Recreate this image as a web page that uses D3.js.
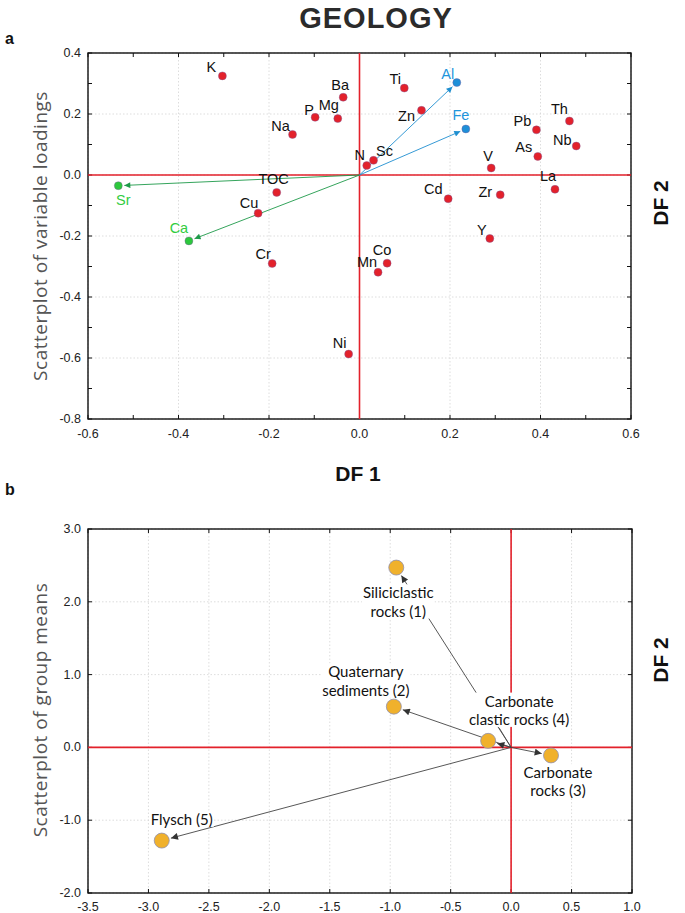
<!DOCTYPE html>
<html>
<head>
<meta charset="utf-8">
<script src="https://cdn.jsdelivr.net/npm/d3@7"></script>
<style>
  html, body { margin: 0; padding: 0; background: #fff; }
  svg { display: block; }
</style>
</head>
<body>
<svg id="chart" width="685" height="913"></svg>
<script>
// ---------------- DATA ----------------
// Panel a: discriminant function loadings
const loadingVars = ["K","Ba","P","Mg","Na","TOC","Cu","Sr","Ca","Cr","Ni","Ti","Al","Zn","Fe","Pb","Th","Nb","As","V","N","Sc","Cd","Zr","La","Y","Co","Mn"];
const loadingDF1 = [-0.303,-0.036,-0.098,-0.048,-0.148,-0.183,-0.224,-0.533,-0.377,-0.193,-0.024,0.099,0.215,0.137,0.235,0.391,0.464,0.479,0.394,0.291,0.016,0.031,0.196,0.311,0.432,0.288,0.061,0.041];
const loadingDF2 = [0.325,0.255,0.189,0.185,0.133,-0.057,-0.125,-0.035,-0.216,-0.290,-0.587,0.285,0.303,0.212,0.151,0.148,0.177,0.095,0.061,0.023,0.031,0.048,-0.078,-0.065,-0.047,-0.208,-0.289,-0.319];
const greenVars = ["Sr","Ca"];
const blueVars = ["Al","Fe"];
const loadXTicks = [-0.6,-0.4,-0.2,0.0,0.2,0.4,0.6];
const loadYTicks = [0.4,0.2,0.0,-0.2,-0.4,-0.6,-0.8];

// Panel b: group means
const groupNames = ["Siliciclastic rocks (1)","Quaternary sediments (2)","Carbonate rocks (3)","Carbonate clastic rocks (4)","Flysch (5)"];
const groupDF1 = [-0.95,-0.97,0.33,-0.19,-2.89];
const groupDF2 = [2.47,0.56,-0.11,0.09,-1.28];
const meanXTicks = [-3.5,-3.0,-2.5,-2.0,-1.5,-1.0,-0.5,0.0,0.5,1.0];
const meanYTicks = [3.0,2.0,1.0,0.0,-1.0,-2.0];

// ---------------- LAYOUT (label placement, px offsets from point) ----------------
const loadLabelOffset = {
  K:[-11,-9], Ba:[-3,-12], P:[-6,-8], Mg:[-9,-14], Na:[-12,-9], TOC:[-3,-14], Cu:[-9,-10],
  Sr:[5,14], Ca:[-10,-13], Cr:[-9,-10], Ni:[-9,-11], Ti:[-9,-9], Al:[-9,-9], Zn:[-15,5],
  Fe:[-5,-14], Pb:[-14,-9], Th:[-10,-12], Nb:[-14,-6], As:[-14,-10], V:[-3,-12], N:[-7,-11],
  Sc:[11,-10], Cd:[-15,-10], Zr:[-15,-3], La:[-7,-14], Y:[-8,-9], Co:[-5,-13], Mn:[-11,-11]
};
const groupLabelLayout = [
  {lines:["Siliciclastic","rocks (1)"], dx:2, dy:25.5},
  {lines:["Quaternary","sediments (2)"], dx:-28, dy:-34.5},
  {lines:["Carbonate","rocks (3)"], dx:7, dy:17.5},
  {lines:["Carbonate","clastic rocks (4)"], dx:31, dy:-39.5},
  {lines:["Flysch (5)"], dx:20, dy:-21}
];

const RED = "#e3212b";
const svg = d3.select("#chart");
const fmt = d => d.toFixed(1);

// arrowhead markers
function addMarker(id, color, w, h) {
  svg.append("defs").append("marker")
    .attr("id", id).attr("viewBox", "0 0 10 10")
    .attr("refX", 10).attr("refY", 5)
    .attr("markerWidth", w).attr("markerHeight", h)
    .attr("markerUnits", "userSpaceOnUse")
    .attr("orient", "auto")
    .append("path").attr("d", "M0,0 L10,5 L0,10 Z").attr("fill", color);
}
addMarker("arrGreen", "#1e9a4a", 9, 6);
addMarker("arrBlue", "#1f8fd0", 9, 6);
addMarker("arrDark", "#333", 10, 7);

function shorten(x0, y0, x1, y1, d) {
  const L = Math.hypot(x1 - x0, y1 - y0);
  return [x1 - (x1 - x0) / L * d, y1 - (y1 - y0) / L * d];
}

function drawFrame(g, x, y, xTicks, yTicks, xMinor, yMinor, gridX, gridY, xLabY) {
  const [x0, x1] = x.range(), [y0, y1] = y.range(); // y0 bottom, y1 top
  // grid
  g.selectAll(".gx").data(gridX).enter().append("line")
    .attr("x1", d => x(d)).attr("x2", d => x(d)).attr("y1", y1).attr("y2", y0)
    .attr("stroke", "#d4d4d4").attr("stroke-width", 0.8).attr("stroke-dasharray", "1.5,2");
  g.selectAll(".gy").data(gridY).enter().append("line")
    .attr("y1", d => y(d)).attr("y2", d => y(d)).attr("x1", x0).attr("x2", x1)
    .attr("stroke", "#d4d4d4").attr("stroke-width", 0.8).attr("stroke-dasharray", "1.5,2");
  // inward ticks
  const tl = 4;
  xMinor.forEach(v => {
    g.append("line").attr("x1", x(v)).attr("x2", x(v)).attr("y1", y0).attr("y2", y0 - tl).attr("stroke", "#111");
    g.append("line").attr("x1", x(v)).attr("x2", x(v)).attr("y1", y1).attr("y2", y1 + tl).attr("stroke", "#111");
  });
  yMinor.forEach(v => {
    g.append("line").attr("y1", y(v)).attr("y2", y(v)).attr("x1", x0).attr("x2", x0 + tl).attr("stroke", "#111");
    g.append("line").attr("y1", y(v)).attr("y2", y(v)).attr("x1", x1).attr("x2", x1 - tl).attr("stroke", "#111");
  });
  // frame
  g.append("rect").attr("x", x0).attr("y", y1).attr("width", x1 - x0).attr("height", y0 - y1)
    .attr("fill", "none").attr("stroke", "#111").attr("stroke-width", 1.4);
  // tick labels
  g.selectAll(".xl").data(xTicks).enter().append("text")
    .attr("x", d => x(d)).attr("y", xLabY).attr("text-anchor", "middle")
    .attr("font-family", "Liberation Sans, Arial, sans-serif").attr("font-size", 12.5).attr("fill", "#222")
    .text(d => fmt(d));
  g.selectAll(".yl").data(yTicks).enter().append("text")
    .attr("x", x0 - 7).attr("y", d => y(d) + 4).attr("text-anchor", "end")
    .attr("font-family", "Liberation Sans, Arial, sans-serif").attr("font-size", 12.5).attr("fill", "#222")
    .text(d => fmt(d));
  // zero lines
  g.append("line").attr("x1", x(0)).attr("x2", x(0)).attr("y1", y1).attr("y2", y0)
    .attr("stroke", RED).attr("stroke-width", 1.6);
  g.append("line").attr("x1", x0).attr("x2", x1).attr("y1", y(0)).attr("y2", y(0))
    .attr("stroke", RED).attr("stroke-width", 1.6);
}

function range(a, b, s) { const out = []; for (let i = 0; a + i * s <= b + 1e-9; i++) out.push(+(a + i * s).toFixed(4)); return out; }

// ---------------- TITLES ----------------
svg.append("text").attr("x", 376).attr("y", 28).attr("text-anchor", "middle")
  .attr("font-family", "Liberation Sans, Arial, sans-serif").attr("font-weight", "bold")
  .attr("font-size", 29).attr("letter-spacing", 1).attr("fill", "#2b2b2b").text("GEOLOGY");
svg.append("text").attr("x", 5).attr("y", 44)
  .attr("font-family", "Liberation Sans, Arial, sans-serif").attr("font-weight", "bold")
  .attr("font-size", 16).attr("fill", "#111").text("a");
svg.append("text").attr("x", 5).attr("y", 495)
  .attr("font-family", "Liberation Sans, Arial, sans-serif").attr("font-weight", "bold")
  .attr("font-size", 16).attr("fill", "#111").text("b");

// ---------------- PANEL A ----------------
const xa = d3.scaleLinear().domain([-0.6, 0.6]).range([88, 631]);
const ya = d3.scaleLinear().domain([-0.8, 0.4]).range([419, 53]);
const ga = svg.append("g");
drawFrame(ga, xa, ya, loadXTicks, loadYTicks, range(-0.6, 0.6, 0.1), range(-0.8, 0.4, 0.1),
  loadXTicks, loadYTicks, 438);

ga.append("text").attr("transform", "translate(47,236) rotate(-90)").attr("text-anchor", "middle")
  .attr("font-family", "Open Sans, sans-serif").attr("font-size", 19).attr("letter-spacing", 0.5).attr("fill", "#555")
  .text("Scatterplot of variable loadings");
svg.append("text").attr("x", 358).attr("y", 481).attr("text-anchor", "middle")
  .attr("font-family", "Liberation Sans, Arial, sans-serif").attr("font-weight", "bold")
  .attr("font-size", 21).attr("fill", "#111").text("DF 1");
svg.append("text").attr("transform", "translate(668,203) rotate(-90)").attr("text-anchor", "middle")
  .attr("font-family", "Liberation Sans, Arial, sans-serif").attr("font-weight", "bold")
  .attr("font-size", 21).attr("fill", "#111").text("DF 2");
svg.append("text").attr("transform", "translate(668,660) rotate(-90)").attr("text-anchor", "middle")
  .attr("font-family", "Liberation Sans, Arial, sans-serif").attr("font-weight", "bold")
  .attr("font-size", 21).attr("fill", "#111").text("DF 2");

const loadData = loadingVars.map((v, i) => ({
  name: v, x: loadingDF1[i], y: loadingDF2[i],
  kind: greenVars.includes(v) ? "g" : blueVars.includes(v) ? "b" : "r"
}));
const ptColor = {r: RED, g: "#2cc83c", b: "#1d8fd8"};
const lblColor = {r: "#111", g: "#33cc3f", b: "#1e95dc"};
const arrColor = {g: "#1e9a4a", b: "#1f8fd0"};
const arrMarker = {g: "url(#arrGreen)", b: "url(#arrBlue)"};

// arrows
loadData.filter(d => d.kind !== "r").forEach(d => {
  const [ex, ey] = shorten(xa(0), ya(0), xa(d.x), ya(d.y), 6);
  ga.append("line").attr("x1", xa(0)).attr("y1", ya(0)).attr("x2", ex).attr("y2", ey)
    .attr("stroke", arrColor[d.kind]).attr("stroke-width", 0.9).attr("marker-end", arrMarker[d.kind]);
});
// points
ga.selectAll(".pt").data(loadData).enter().append("circle")
  .attr("cx", d => xa(d.x)).attr("cy", d => ya(d.y)).attr("r", 4)
  .attr("fill", d => ptColor[d.kind]).attr("stroke", "#7a5c9c").attr("stroke-width", 0.4);
// labels
ga.selectAll(".lb").data(loadData).enter().append("text")
  .attr("x", d => xa(d.x) + loadLabelOffset[d.name][0])
  .attr("y", d => ya(d.y) + loadLabelOffset[d.name][1])
  .attr("dy", "0.36em").attr("text-anchor", "middle")
  .attr("font-family", "Liberation Sans, Arial, sans-serif").attr("font-size", 14.5)
  .attr("fill", d => lblColor[d.kind]).text(d => d.name);

// ---------------- PANEL B ----------------
const xb = d3.scaleLinear().domain([-3.5, 1.0]).range([88, 632]);
const yb = d3.scaleLinear().domain([-2, 3]).range([893, 529]);
const gb = svg.append("g");
drawFrame(gb, xb, yb, meanXTicks, meanYTicks, meanXTicks, meanYTicks, meanXTicks, meanYTicks, 911);

gb.append("text").attr("transform", "translate(47,710) rotate(-90)").attr("text-anchor", "middle")
  .attr("font-family", "Open Sans, sans-serif").attr("font-size", 19).attr("letter-spacing", 0.5).attr("fill", "#555")
  .text("Scatterplot of group means");

const meanData = groupNames.map((n, i) => ({name: n, x: groupDF1[i], y: groupDF2[i], lay: groupLabelLayout[i]}));
const R = 7.5;
const ox = xb(0), oy = yb(0);
// arrows from origin
meanData.forEach(d => {
  const [ex, ey] = shorten(ox, oy, xb(d.x), yb(d.y), R + 2);
  gb.append("line").attr("x1", ox).attr("y1", oy).attr("x2", ex).attr("y2", ey)
    .attr("stroke", "#444").attr("stroke-width", 0.9).attr("marker-end", "url(#arrDark)");
});
// leader for Carbonate clastic rocks (4)
{
  const d = meanData[3];
  gb.append("line").attr("x1", xb(d.x) + 11).attr("y1", yb(d.y) - 13).attr("x2", ox).attr("y2", oy)
    .attr("stroke", "#444").attr("stroke-width", 0.8);
}
// labels (one text element with line tspans) on white backgrounds
const lblFont = "Lato, Open Sans, sans-serif";
const LH = 18.3;
meanData.forEach(d => {
  const cx = xb(d.x) + d.lay.dx, cy = yb(d.y) + d.lay.dy;
  const lg = gb.append("g");
  const txt = lg.append("text").attr("text-anchor", "middle")
    .attr("font-family", lblFont).attr("font-size", 15).attr("fill", "#111");
  d.lay.lines.forEach((t, k) => txt.append("tspan")
    .attr("x", cx).attr("y", cy + k * LH).attr("dy", "0.35em").text(t));
  const b = txt.node().getBBox();
  lg.insert("rect", "text").attr("x", b.x - 1).attr("y", b.y + 1).attr("width", b.width + 2)
    .attr("height", b.height - 2).attr("fill", "#fff");
});
// points
gb.selectAll(".mp").data(meanData).enter().append("circle")
  .attr("cx", d => xb(d.x)).attr("cy", d => yb(d.y)).attr("r", R)
  .attr("fill", "#f0b12c").attr("stroke", "#8f8fb0").attr("stroke-width", 0.8);
</script>
</body>
</html>
